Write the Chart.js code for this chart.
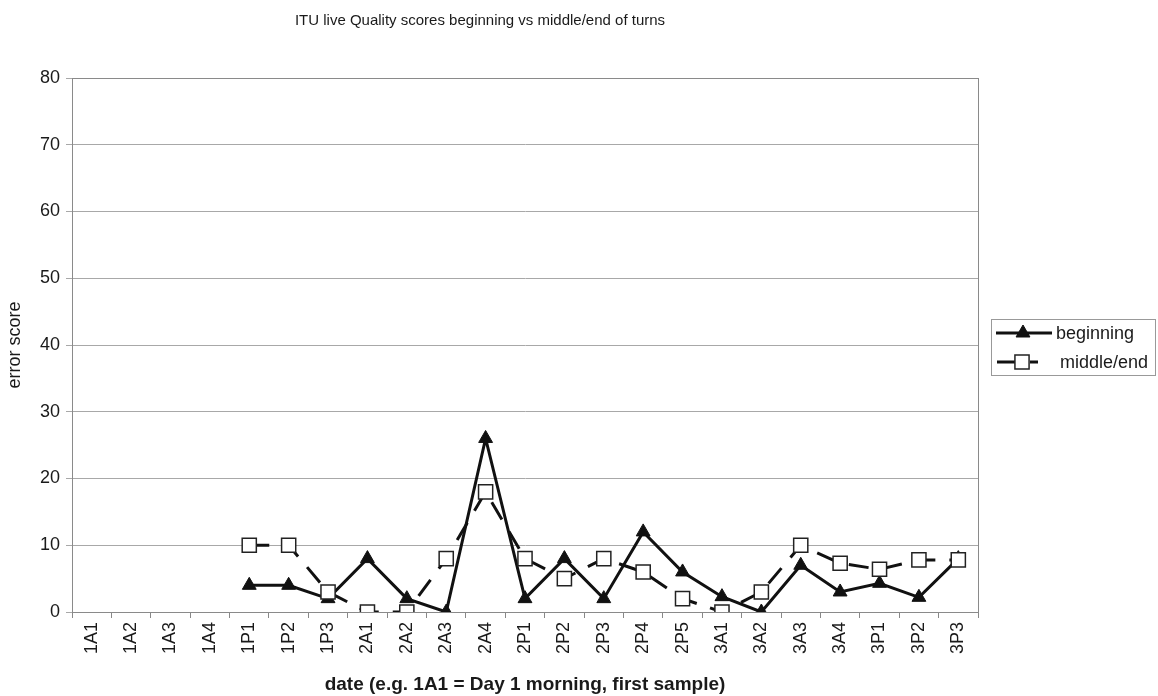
<!DOCTYPE html>
<html>
<head>
<meta charset="utf-8">
<title>ITU live Quality scores</title>
<script src="https://cdn.jsdelivr.net/npm/chart.js@4"></script>
<style>
  html,body{margin:0;padding:0;background:#fff;}
  canvas{display:block;}
</style>
</head>
<body>
<canvas id="chart" width="1158" height="696"></canvas>
<script>
const TITLE = 'ITU live Quality scores beginning vs middle/end of turns';
const LABELS = ['1A1','1A2','1A3','1A4','1P1','1P2','1P3','2A1','2A2','2A3','2A4',
  '2P1','2P2','2P3','2P4','2P5','3A1','3A2','3A3','3A4','3P1','3P2','3P3'];
const BEGINNING = [null,null,null,null,4,4,2,8,2,0,26,2,8,2,12,6,2.3,0,7,3,4.3,2.2,8];
const MIDDLE_END = [null,null,null,null,10,10,3,0,0,8,18,8,5,8,6,2,0,3,10,7.3,6.4,7.8,7.8];
const Y_TICKS = [0,10,20,30,40,50,60,70,80];

const FONT = 'Arial, "Liberation Sans", sans-serif';
const INK = '#1a1a1a';

// title, plot frame and the excel-style legend (line + marker sample)
const decor = {
  id:'decor',
  afterDraw(chart){
    const {ctx, chartArea:a} = chart;
    ctx.save();
    ctx.strokeStyle = '#8a8a8a';
    ctx.lineWidth = 1;
    ctx.strokeRect(a.left+0.5, a.top+0.5, a.right-a.left, a.bottom-a.top);

    ctx.fillStyle = INK;
    ctx.font = '15px ' + FONT;
    ctx.textAlign = 'center';
    ctx.textBaseline = 'middle';
    ctx.fillText(TITLE, 480, 21);

    // legend
    const lx = 991, ly = 319, lw = 164, lh = 56;
    ctx.strokeStyle = '#999';
    ctx.strokeRect(lx+0.5, ly+0.5, lw, lh);
    const rows = [{ds:chart.data.datasets[0], y:333, tx:1056}, {ds:chart.data.datasets[1], y:362, tx:1060}];
    rows.forEach(r=>{
      const ds = r.ds;
      ctx.strokeStyle = ds.borderColor;
      ctx.lineWidth = ds.borderWidth;
      ctx.beginPath();
      if(ds.borderDash){
        ctx.moveTo(997, r.y); ctx.lineTo(1015, r.y);
        ctx.moveTo(1030, r.y); ctx.lineTo(1038, r.y);
      } else {
        ctx.moveTo(996, r.y); ctx.lineTo(1052, r.y);
      }
      ctx.stroke();
      ctx.fillStyle = ds.pointBackgroundColor;
      ctx.strokeStyle = ds.pointBorderColor;
      ctx.lineWidth = ds.pointBorderWidth;
      ctx.beginPath();
      if(ds.pointStyle==='rect'){
        const s = Math.SQRT1_2*ds.pointRadius;
        const cx = 1022;
        ctx.rect(cx-s, r.y-s, 2*s, 2*s);
      } else {
        const rad = ds.pointRadius, cx = 1023;
        ctx.moveTo(cx, r.y-rad);
        ctx.lineTo(cx+rad*0.866, r.y+rad*0.5);
        ctx.lineTo(cx-rad*0.866, r.y+rad*0.5);
        ctx.closePath();
      }
      ctx.fill();
      ctx.stroke();
      ctx.fillStyle = INK;
      ctx.font = '18px ' + FONT;
      ctx.textAlign = 'left';
      ctx.fillText(ds.label, r.tx, r.y+1);
    });
    ctx.restore();
  }
};

new Chart(document.getElementById('chart'),{
  type:'line',
  data:{
    labels:LABELS,
    datasets:[
      {
        label:'beginning',
        data:BEGINNING,
        borderColor:'#111',
        borderWidth:3,
        pointStyle:'triangle',
        pointRadius:8,
        pointBackgroundColor:'#111',
        pointBorderColor:'#111',
        pointBorderWidth:1,
        tension:0,
        order:2
      },
      {
        label:'middle/end',
        data:MIDDLE_END,
        borderColor:'#111',
        borderWidth:3,
        borderDash:[20,14],
        pointStyle:'rect',
        pointRadius:10,
        pointBackgroundColor:'#fff',
        pointBorderColor:'#222',
        pointBorderWidth:1.5,
        tension:0,
        order:1
      }
    ]
  },
  options:{
    responsive:false,
    animation:false,
    layout:{padding:{top:78,right:180,left:0,bottom:0}},
    plugins:{legend:{display:false},title:{display:false},tooltip:{enabled:false}},
    scales:{
      x:{
        offset:true,
        grid:{offset:true,drawOnChartArea:false,drawTicks:true,tickLength:6,color:'#888'},
        border:{color:'#888'},
        ticks:{color:INK,font:{family:FONT,size:18},minRotation:90,maxRotation:90,autoSkip:false,padding:4},
        title:{display:true,text:'date (e.g. 1A1 = Day 1 morning, first sample)',color:INK,
          font:{family:FONT,size:19,weight:'bold'},padding:{top:2,bottom:0}},
        afterFit(scale){ scale.height = 84; }
      },
      y:{
        min:0,max:80,
        afterBuildTicks(scale){ scale.ticks = Y_TICKS.map(v=>({value:v})); },
        grid:{color:'#a8a8a8',tickLength:6,drawTicks:true},
        border:{color:'#888'},
        ticks:{color:INK,font:{family:FONT,size:18},padding:6},
        title:{display:true,text:'error score',color:INK,font:{family:FONT,size:18},padding:{top:4,bottom:0}},
        afterFit(scale){ scale.width = 72; }
      }
    }
  },
  plugins:[decor]
});
</script>
</body>
</html>
